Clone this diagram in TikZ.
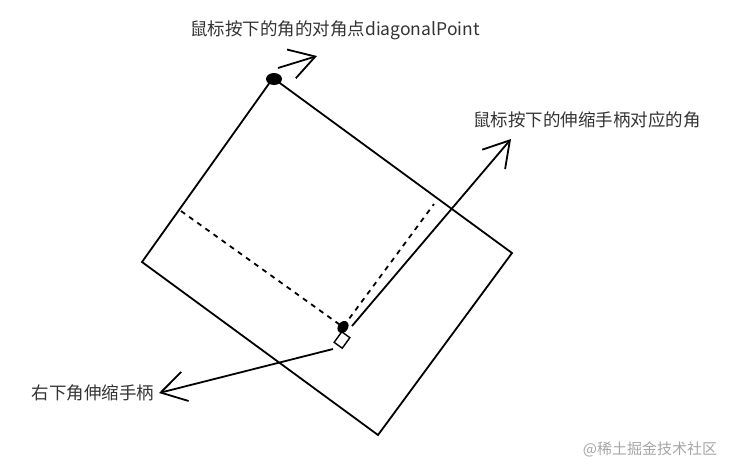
\documentclass[tikz,border=0pt]{standalone}
\usepackage{fontspec}
\newfontfamily\cjk{Noto Sans CJK SC}
\usetikzlibrary{positioning,arrows.meta,shapes.geometric}
\definecolor{textgray}{HTML}{333333}
\definecolor{markgray}{HTML}{A6A6A6}

\begin{document}
\begin{tikzpicture}[x=1pt,y=-1pt,line width=1.8pt,
	open arrow/.style={-{Straight Barb[length=25pt,width=30pt]}},
	hint line/.style={dash pattern=on 5pt off 5pt},
	dot/.style={ellipse,fill,inner sep=0pt},
	label node/.style={text=textgray,inner sep=0pt,font=\cjk\fontsize{17.5}{20}\selectfont}]
	
	\useasboundingbox (0,0) rectangle (733,472);
	
	% the rotated box
	\coordinate (top) at (273,78);
	\coordinate (right) at (512,253);
	\coordinate (bottom) at (378,435);
	\coordinate (left) at (142,262);
	\draw (top) -- (right) -- (bottom) -- (left) -- cycle;
	
	% new corner while dragging
	\coordinate (side) at (181,211);
	\coordinate (edge) at (434,204);
	\draw[hint line] (side) -- (343,327) -- (edge);
	\node[draw,fill=white,minimum width=10pt,minimum height=13pt,inner sep=0pt,
		rotate=-36,line width=1.4pt] (handle) at (342,340) {};
	\node[dot,minimum width=10pt,minimum height=13pt,rotate=-36] (corner) at (343,327) {};
	\node[dot,minimum width=16pt,minimum height=12pt] (diag) at (274,79) {};
	
	% arrows and labels
	\coordinate (diag foot) at (278,68);
	\coordinate (diag tip) at (317,56);
	\draw[open arrow] (diag foot) -- (diag tip);
	\node[label node] (diag label) at (335,30) {鼠标按下的角的对角点diagonalPoint};
	
	\coordinate (corner foot) at (352,326);
	\coordinate (corner tip) at (511,139);
	\draw[open arrow] (corner foot) -- (corner tip);
	\node[label node] (corner label) at (587,120) {鼠标按下的伸缩手柄对应的角};
	
	\coordinate (handle foot) at (333,349);
	\coordinate (handle tip) at (159,393);
	\draw[open arrow] (handle foot) -- (handle tip);
	\node[label node,left=4pt of handle tip] (handle label) {右下角伸缩手柄};
	
	\node[text=markgray,font=\cjk\fontsize{15}{18}\selectfont] (mark) at (650,449) {@稀土掘金技术社区};
\end{tikzpicture}
\end{document}
